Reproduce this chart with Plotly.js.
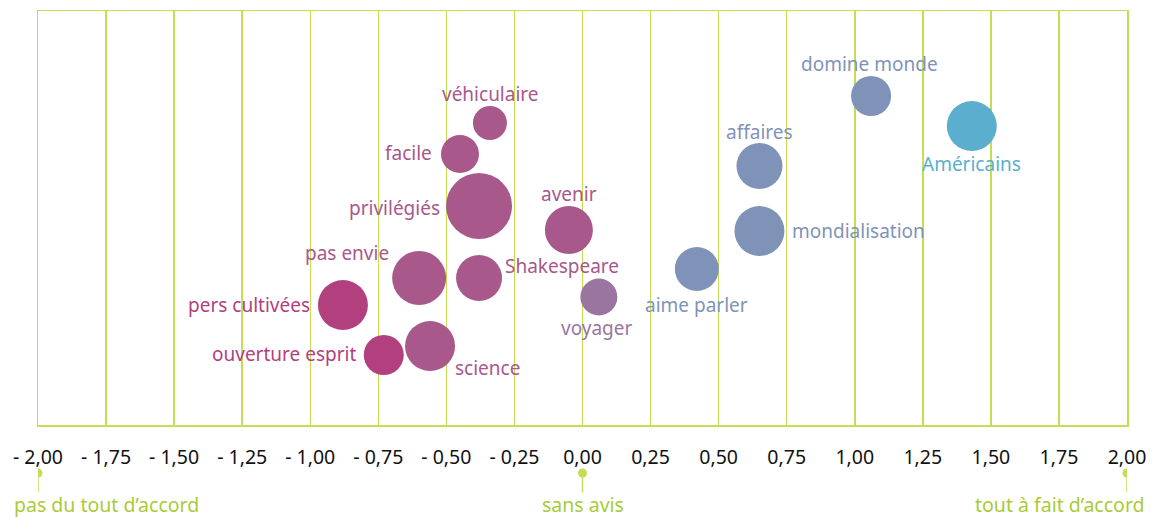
<!DOCTYPE html>
<html>
<head>
<meta charset="utf-8">
<script src="https://cdn.plot.ly/plotly-3.0.1.min.js"></script>
<style>html,body{margin:0;padding:0;background:#fff;}#chart{width:1166px;height:519px;}</style>
</head>
<body>
<div id="chart"></div>
<script>
// Data
const labels = ['véhiculaire','facile','privilégiés','avenir','pas envie','Shakespeare','pers cultivées','ouverture esprit','science','voyager','aime parler','mondialisation','affaires','domine monde','Américains'];
const xValues = [-0.34,-0.45,-0.38,-0.05,-0.60,-0.38,-0.88,-0.73,-0.56,0.06,0.42,0.65,0.65,1.06,1.43];
const yValues = [302,271,219,195,147,147,120,70,79,128,156,194,259,329,299];
const sizes = [34,38,66,48,54,46,50,40,50,37,44,50,46,40,50];
const groups = ['rose','rose','rose','rose','rose','rose','fort','fort','rose','violet','bleu','bleu','bleu','bleu','cyan'];
const tickValues = [-2,-1.75,-1.5,-1.25,-1,-0.75,-0.5,-0.25,0,0.25,0.5,0.75,1,1.25,1.5,1.75,2];
const tickLabels = ['- 2,00','- 1,75','- 1,50','- 1,25','- 1,00','- 0,75','- 0,50','- 0,25','0,00','0,25','0,50','0,75','1,00','1,25','1,50','1,75','2,00'];
const scaleValues = [-2,0,2];
const scaleLabels = ['pas du tout d’accord','sans avis','tout à fait d’accord'];

// Label placement (style only): [xanchor, xshift px, yshift px]
const labelPlacement = {
  'véhiculaire':['center',1,29], 'facile':['right',-26,1], 'privilégiés':['right',-37,-2],
  'avenir':['center',0,36], 'pas envie':['right',-28,25], 'Shakespeare':['left',24,12],
  'pers cultivées':['right',-31,0], 'ouverture esprit':['right',-26,1], 'science':['left',23,-22],
  'voyager':['center',-2,-31], 'aime parler':['center',0,-36], 'mondialisation':['left',31,0],
  'affaires':['center',0,34], 'domine monde':['center',-2,32], 'Américains':['center',0,-38]
};

const palette = {rose:'#A8588B', fort:'#B2407F', violet:'#9A75A0', bleu:'#7F93B8', cyan:'#5BAECD'};
const green = '#C4DD55';
const greenText = '#A9CB3A';
const FONT = 'Noto Sans, Open Sans, sans-serif';
const colors = groups.map(g => palette[g]);

const trace = {
  type:'scatter', mode:'markers',
  x:xValues, y:yValues,
  marker:{size:sizes, sizemode:'diameter', color:colors, opacity:1, line:{width:0}},
  hoverinfo:'none', cliponaxis:false
};

const shapes = [];
const annotations = [];
labels.forEach((t,i) => {
  const p = labelPlacement[t];
  annotations.push({xref:'x', yref:'y', x:xValues[i], y:yValues[i], text:t, showarrow:false,
    xanchor:p[0], yanchor:'middle', xshift:p[1], yshift:p[2],
    font:{family:FONT, size:19, color:colors[i]}});
});
scaleValues.forEach((v,i) => {
  shapes.push({type:'line', xref:'x', yref:'paper', x0:v, x1:v, y0:-0.116, y1:-0.163, line:{color:green, width:1.5}});
  shapes.push({type:'circle', xref:'x', yref:'paper', xsizemode:'pixel', ysizemode:'pixel', xanchor:v, yanchor:-0.116,
    x0:-4.5, x1:4.5, y0:-4.5, y1:4.5, fillcolor:green, line:{width:0}});
  const anchor = i===0 ? 'left' : (i===scaleValues.length-1 ? 'right' : 'center');
  const shift = i===0 ? -26 : (i===scaleValues.length-1 ? 20 : 0);
  annotations.push({xref:'x', yref:'paper', x:v, y:-0.192, text:scaleLabels[i], showarrow:false,
    xanchor:anchor, yanchor:'middle', xshift:shift,
    font:{family:FONT, size:19.5, color:greenText}});
});

const layout = {
  width:1166, height:519,
  margin:{l:38, r:39, t:11, b:94},
  paper_bgcolor:'#fff', plot_bgcolor:'#fff',
  showlegend:false,
  xaxis:{range:[-2,2], tickvals:tickValues, ticktext:tickLabels, showgrid:true, gridcolor:green, gridwidth:1.5,
    zeroline:false, showline:true, mirror:true, linecolor:green, linewidth:1.5,
    ticks:'', ticklabelstandoff:14,
    tickfont:{family:FONT, size:19.5, color:'#111'}, fixedrange:true},
  yaxis:{range:[0,414], showgrid:false, zeroline:false, showticklabels:false, showline:true, mirror:true,
    linecolor:green, linewidth:1.5, ticks:'', fixedrange:true},
  shapes:shapes, annotations:annotations
};

Plotly.newPlot('chart',[trace],layout,{displayModeBar:false, staticPlot:true});
</script>
</body>
</html>
